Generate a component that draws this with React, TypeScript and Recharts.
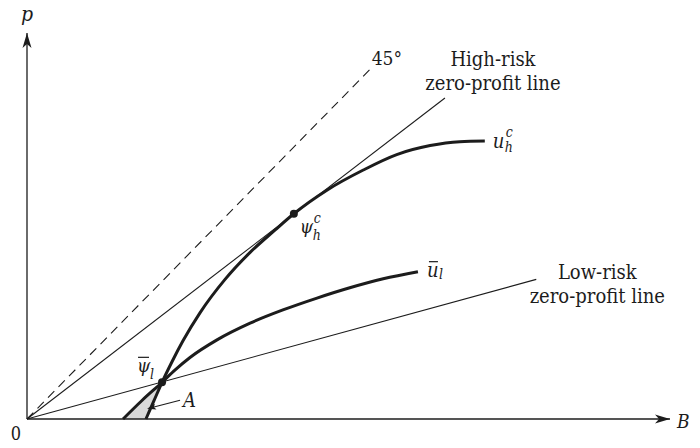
import React from "react";
import {
  ComposedChart,
  Line,
  Area,
  XAxis,
  YAxis,
  ReferenceLine,
  ReferenceDot,
} from "recharts";

// u_h^c  (x = B, y = p)
const uhX = [18.5, 19.75, 21.0, 22.55, 24.26, 26.9, 30.8, 34.7, 38.6, 41.5, 46.7, 52.3, 57.5, 62.7, 67.3, 71.2];
const uhY = [0, 2.85, 5.7, 8.9, 12.15, 16.5, 21.7, 25.9, 29.4, 31.9, 35.6, 38.7, 41.1, 42.5, 43.1, 43.2];
// u-bar_l
const ulX = [14.93, 17.88, 21.0, 23.0, 25.35, 29.55, 34.7, 39.8, 45.1, 50.2, 55.4, 60.8];
const ulY = [0, 2.88, 5.7, 7.6, 9.56, 12.3, 14.9, 16.95, 18.8, 20.4, 21.8, 22.9];
// straight rays from the origin: [B, p] at the end
const diagEnd = [53.3, 54.3];
const highRiskEnd = [65.0, 49.9];
const lowRiskEnd = [79.2, 21.7];
// shaded region A
const aX = [14.93, 17.88, 18.5, 19.75, 21.0];
const aLow = [0, 0, 0, 2.85, 5.7];
const aHigh = [0, 2.88, 3.44, 4.57, 5.7];
// points
const psiH = [41.5, 31.9];
const psiL = [21.0, 5.7];

const pairs = (xs: number[], ys: number[]) => xs.map((x, i) => ({ x, y: ys[i] }));
const ray = (end: number[]) => [{ x: 0, y: 0 }, { x: end[0], y: end[1] }];

const uhData = pairs(uhX, uhY);
const ulData = pairs(ulX, ulY);
const areaData = aX.map((x, i) => ({ x, r: [aLow[i], aHigh[i]] }));

const ink = "#1c1c1c";
const serifC = '"DejaVu Serif Condensed", "DejaVu Serif", serif';

const at = (dx: number, dy: number, children: React.ReactNode) => (p: any) => (
  <g transform={`translate(${p.cx + dx},${p.cy + dy})`} fontFamily={serifC} fill={ink}>
    {children}
  </g>
);

const arrowRight = at(0, 0, <path d="M0,0 L-15,-4.5 L-11,0 L-15,4.5 Z" />);
const arrowUp = at(0, 0, <path d="M0,0 L-4.5,15 L0,11 L4.5,15 Z" />);

export default function App() {
  return (
    <div style={{ width: 700, height: 448, margin: -8 }}>
      <ComposedChart
        width={700}
        height={448}
        margin={{ top: 33, right: 30, bottom: 29, left: 27 }}
      >
        <XAxis type="number" dataKey="x" domain={[0, 100]} hide />
        <YAxis type="number" domain={[0, 60]} hide />

        <Area
          data={areaData}
          dataKey="r"
          type="linear"
          fill="#d9d9d9"
          fillOpacity={1}
          stroke="none"
          isAnimationActive={false}
        />

        <ReferenceLine y={0} stroke={ink} strokeWidth={1.3} />
        <ReferenceLine x={0} stroke={ink} strokeWidth={1.3} />

        <Line data={ray(diagEnd)} dataKey="y" type="linear" stroke={ink} strokeWidth={1.1}
          strokeDasharray="9 6" dot={false} activeDot={false} isAnimationActive={false} />
        <Line data={ray(highRiskEnd)} dataKey="y" type="linear" stroke={ink} strokeWidth={1.1}
          dot={false} activeDot={false} isAnimationActive={false} />
        <Line data={ray(lowRiskEnd)} dataKey="y" type="linear" stroke={ink} strokeWidth={1.1}
          dot={false} activeDot={false} isAnimationActive={false} />

        <Line data={uhData} dataKey="y" type="monotone" stroke={ink} strokeWidth={3}
          dot={false} activeDot={false} isAnimationActive={false} />
        <Line data={ulData} dataKey="y" type="monotone" stroke={ink} strokeWidth={3}
          dot={false} activeDot={false} isAnimationActive={false} />

        <ReferenceDot x={psiH[0]} y={psiH[1]} r={4} fill={ink} stroke="none" />
        <ReferenceDot x={psiL[0]} y={psiL[1]} r={4} fill={ink} stroke="none" />

        {/* axis arrows and labels */}
        <ReferenceDot x={100} y={0} r={0} shape={arrowRight} />
        <ReferenceDot x={0} y={60} r={0} shape={arrowUp} />
        <ReferenceDot x={0} y={60} r={0} shape={at(0, -12,
          <text textAnchor="middle" fontSize={21} fontStyle="italic">p</text>)} />
        <ReferenceDot x={100} y={0} r={0} shape={at(7, 9,
          <text fontSize={19} fontStyle="italic">B</text>)} />
        <ReferenceDot x={0} y={0} r={0} shape={at(-11, 21,
          <text textAnchor="middle" fontSize={18}>0</text>)} />

        <ReferenceDot x={diagEnd[0]} y={diagEnd[1]} r={0} shape={at(2, -5,
          <text fontSize={19}>45°</text>)} />
        <ReferenceDot x={highRiskEnd[0]} y={highRiskEnd[1]} r={0} shape={at(48, 0,
          <text textAnchor="middle" fontSize={20}>
            <tspan x={0} y={-32}>High-risk</tspan>
            <tspan x={0} y={-8}>zero-profit line</tspan>
          </text>)} />
        <ReferenceDot x={lowRiskEnd[0]} y={lowRiskEnd[1]} r={0} shape={at(61, 0,
          <text textAnchor="middle" fontSize={20}>
            <tspan x={0} y={0}>Low-risk</tspan>
            <tspan x={0} y={24}>zero-profit line</tspan>
          </text>)} />

        <ReferenceDot x={uhX[uhX.length - 1]} y={uhY[uhY.length - 1]} r={0} shape={at(8, 7,
          <g fontStyle="italic">
            <text fontSize={20}>u</text>
            <text x={12} y={4} fontSize={14}>h</text>
            <text x={13} y={-11} fontSize={14}>c</text>
          </g>)} />
        <ReferenceDot x={ulX[ulX.length - 1]} y={ulY[ulY.length - 1]} r={0} shape={at(9, 5,
          <g fontStyle="italic">
            <text fontSize={20}>u</text>
            <line x1={2} y1={-15} x2={11} y2={-15} stroke={ink} strokeWidth={1.2} />
            <text x={12} y={2} fontSize={14}>l</text>
          </g>)} />
        <ReferenceDot x={psiH[0]} y={psiH[1]} r={0} shape={at(6, 19,
          <g fontStyle="italic">
            <text fontSize={19}>ψ</text>
            <text x={13} y={7} fontSize={14}>h</text>
            <text x={14} y={-10} fontSize={14}>c</text>
          </g>)} />
        <ReferenceDot x={psiL[0]} y={psiL[1]} r={0} shape={at(-25, -10,
          <g fontStyle="italic">
            <text fontSize={19}>ψ</text>
            <line x1={1} y1={-15} x2={12} y2={-15} stroke={ink} strokeWidth={1.2} />
            <text x={13} y={7} fontSize={14}>l</text>
          </g>)} />
        <ReferenceDot x={psiL[0]} y={psiL[1]} r={0} shape={at(0, 0,
          <g>
            <text x={21} y={25} fontSize={20} fontStyle="italic">A</text>
            <line x1={18} y1={18} x2={-11} y2={25.5} stroke={ink} strokeWidth={1.1} />
            <path d="M0,0 L-9,-3 L-7,0 L-9,3 Z" transform="translate(-15,26.5) rotate(165.6)" />
          </g>)} />
      </ComposedChart>
    </div>
  );
}
